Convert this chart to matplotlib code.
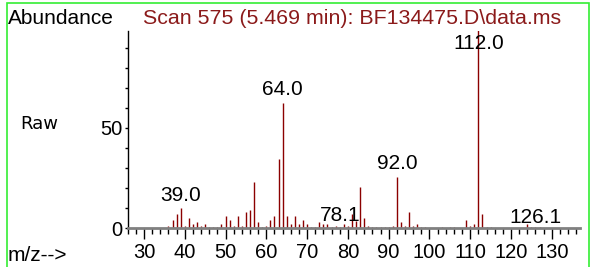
import matplotlib.pyplot as plt
from matplotlib.patches import Rectangle

# m/z values and abundances
mz = [36, 37, 38, 39, 40, 41, 42, 43, 44, 45, 46, 47, 48, 49, 50, 51, 52, 53, 54, 55,
      56, 57, 58, 59, 60, 61, 62, 63, 64, 65, 66, 67, 68, 69, 70, 71, 72, 73, 74, 75,
      76, 77, 78, 79, 80, 81, 82, 83, 84, 85, 86, 87, 88, 89, 90, 91, 92, 93, 94, 95,
      96, 97, 98, 99, 103, 105, 106, 109, 110, 111, 112, 113, 114, 115, 124, 125, 126, 127]
abund = [1, 4, 7, 10, 1, 5, 2, 3, 1, 2, 0.5, 0.5, 0.5, 2, 6, 4, 1, 6, 1, 8,
         9, 23, 3, 0.5, 1, 4, 6, 34.5, 62.3, 6, 2, 6, 2, 4, 2, 0.7, 0.5, 3, 2, 2,
         0.5, 1, 0.5, 2, 1, 7, 3.5, 20.7, 5, 1, 0.5, 0.5, 0.5, 0.5, 0.5, 1, 25.7, 3, 1, 8,
         1, 2, 0.5, 0.5, 0.5, 0.5, 0.5, 4, 1, 2, 100, 7, 0.5, 0.5, 2, 0.5, 0.5, 0.5]

# peak labels (text, x, y)
peak_text = ['39.0', '64.0', '78.1', '92.0', '112.0', '126.1']
peak_x = [39, 64, 78, 92, 112, 126]
peak_y = [16.5, 69, 6.5, 32.5, 92, 5.5]

xticks = list(range(30, 140, 10))
yticks = list(range(0, 100, 10))

fig = plt.figure(figsize=(5.91, 2.67), dpi=100)
ax = fig.add_axes([0.216, 0.146, 0.766, 0.738])

ax.vlines(mz, 0, abund, color='#8b0000', linewidth=1)

for t, x, y in zip(peak_text, peak_x, peak_y):
    ax.text(x, y, t, ha='center', va='center', fontsize=15,
            family='Liberation Sans', color='black')

ax.set_xlim(26, 137)
ax.set_ylim(0, 98.5)

ax.spines['top'].set_visible(False)
ax.spines['right'].set_visible(False)
ax.spines['bottom'].set_color('#808080')
ax.spines['bottom'].set_linewidth(2)
ax.spines['left'].set_linewidth(1)

ax.set_xticks(xticks)
ax.set_xticks(list(range(26, 138, 2)), minor=True)
ax.set_yticks(yticks)
ax.set_yticklabels(['0' if v == 0 else '50' if v == 50 else '' for v in yticks])
ax.tick_params(axis='x', which='major', length=8, width=1, pad=3, labelsize=14.5)
ax.tick_params(axis='x', which='minor', length=4.3, width=1)
ax.tick_params(axis='y', length=2, width=1, pad=2, labelsize=14.5)
for lab in ax.get_xticklabels() + ax.get_yticklabels():
    lab.set_family('Liberation Sans')

fig.text(0.014, 0.932, 'Abundance', fontsize=15, family='Liberation Sans',
         ha='left', va='center')
fig.text(0.242, 0.932, 'Scan 575 (5.469 min): BF134475.D\\data.ms', fontsize=15.4,
         family='Liberation Sans', color='#8b1a1a', ha='left', va='center')
fig.text(0.034, 0.535, 'Raw', fontsize=13, family='DejaVu Sans', ha='left', va='center')
fig.text(0.012, 0.042, 'm/z-->', fontsize=15, family='Liberation Sans',
         ha='left', va='center')

fig.patches.append(Rectangle((7 / 591, -0.1), 582 / 591, 1.1 - 3 / 267,
                             transform=fig.transFigure, fill=False,
                             edgecolor='#33ee33', linewidth=1.2))

fig.savefig('out.png', dpi=100)
